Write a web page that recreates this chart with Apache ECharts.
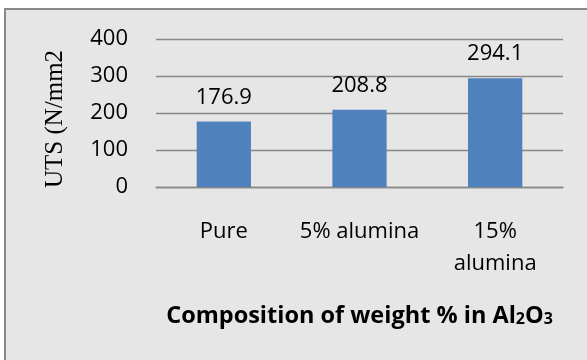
<!DOCTYPE html>
<html>
<head>
<meta charset="utf-8">
<script src="https://cdn.jsdelivr.net/npm/echarts@6/dist/echarts.min.js"></script>
<style>
  html, body { margin: 0; padding: 0; background: #ffffff; }
  #chart { width: 587px; height: 360px; }
</style>
</head>
<body>
<div id="chart"></div>
<script>
// Ultimate tensile strength for each alumina composition
const categories = ['Pure', '5% alumina', '15%\nalumina'];
const utsValues = [176.9, 208.8, 294.1];
const yTicks = [0, 100, 200, 300, 400];

const chart = echarts.init(document.getElementById('chart'), null, { renderer: 'canvas' });

const labelFont = '"Open Sans", "Noto Sans", sans-serif';

chart.setOption({
  animation: false,
  backgroundColor: '#ffffff',
  graphic: [{
    type: 'rect',
    z: -10,
    silent: true,
    shape: { x: 5, y: 9, width: 600, height: 400 },
    style: { fill: '#e6e6e6', stroke: '#888888', lineWidth: 2 }
  }],
  grid: { left: 156, right: 24, top: 39, bottom: 173, containLabel: false },
  xAxis: {
    type: 'category',
    data: categories,
    name: '{t|Composition of weight % in Al}{s|2}{t|O}{s|3}',
    nameLocation: 'middle',
    nameGap: 117,
    nameTextStyle: {
      rich: {
        t: { fontFamily: labelFont, fontWeight: 'bold', fontSize: 23.5, color: '#000', verticalAlign: 'bottom' },
        s: { fontFamily: labelFont, fontWeight: 'bold', fontSize: 16, color: '#000', verticalAlign: 'bottom', padding: [0, 0, 1, 0] }
      }
    },
    axisLine: { show: true, lineStyle: { color: '#888888', width: 1.3 } },
    axisTick: { show: false },
    axisLabel: {
      margin: 29,
      fontFamily: labelFont,
      fontSize: 22,
      lineHeight: 32,
      color: '#000',
      interval: 0
    }
  },
  yAxis: {
    type: 'value',
    min: yTicks[0],
    max: yTicks[yTicks.length - 1],
    interval: 100,
    name: 'UTS (N/mm2',
    nameLocation: 'middle',
    nameGap: 88,
    nameRotate: 90,
    nameTextStyle: {
      fontFamily: '"Liberation Serif", "Times New Roman", serif',
      fontSize: 25,
      color: '#000',
      padding: [0, 12, 0, 0]
    },
    axisLine: { show: false },
    axisTick: { show: false },
    splitLine: { show: true, lineStyle: { color: '#888888', width: 1.3 } },
    axisLabel: {
      margin: 28,
      fontFamily: labelFont,
      fontSize: 22,
      color: '#000'
    }
  },
  series: [{
    type: 'bar',
    data: utsValues,
    barWidth: '40%',
    itemStyle: { color: '#4f81bd' },
    label: {
      show: true,
      position: 'top',
      distance: 13,
      fontFamily: labelFont,
      fontSize: 22,
      color: '#000',
      formatter: p => p.value.toFixed(1)
    }
  }]
});
</script>
</body>
</html>
